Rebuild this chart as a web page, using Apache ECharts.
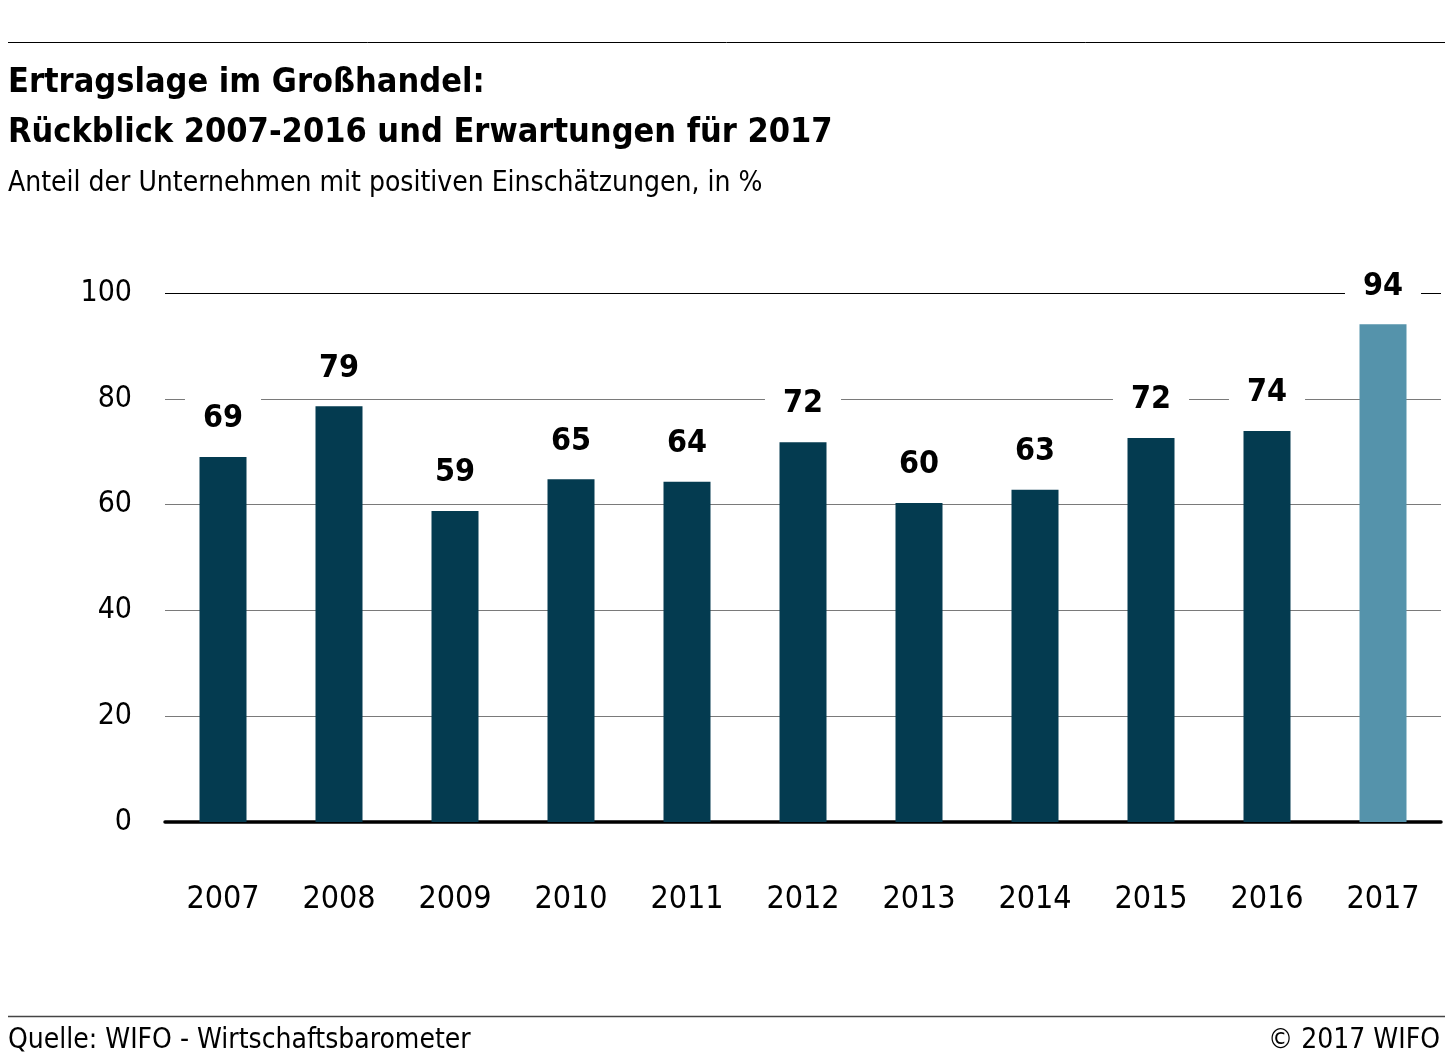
<!DOCTYPE html>
<html>
<head>
<meta charset="utf-8">
<script src="https://cdn.jsdelivr.net/npm/echarts@6/dist/echarts.min.js"></script>
<style>
  html, body { margin: 0; padding: 0; background: #fff; }
  #main { width: 1447px; height: 1063px; }
</style>
</head>
<body>
<div id="main"></div>
<script type="text/javascript">
// Daten
var years = ['2007', '2008', '2009', '2010', '2011', '2012', '2013', '2014', '2015', '2016', '2017'];
var values = [69.0, 78.6, 58.8, 64.8, 64.3, 71.8, 60.3, 62.8, 72.6, 73.9, 94.1];
var labels = [69, 79, 59, 65, 64, 72, 60, 63, 72, 74, 94];
var yTicks = [0, 20, 40, 60, 80, 100];

var dark = '#043b50';
var light = '#5593ab';
var font = '"Liberation Sans Narrow", "DejaVu Sans Condensed", "Noto Sans", sans-serif';

var chart = echarts.init(document.getElementById('main'));

var barData = values.map(function (v, i) {
    return {
        value: v,
        itemStyle: { color: i === values.length - 1 ? light : dark }
    };
});

var option = {
    backgroundColor: '#fff',
    animation: false,
    title: [
        {
            text: 'Ertragslage im Großhandel:\nRückblick 2007-2016 und Erwartungen für 2017',
            left: 3, top: 53,
            textStyle: { fontFamily: font, fontWeight: 'bold', fontSize: 34, lineHeight: 50, color: '#000' }
        },
        {
            text: 'Anteil der Unternehmen mit positiven Einschätzungen, in %',
            left: 3, top: 165,
            textStyle: { fontFamily: font, fontWeight: 'normal', fontSize: 28, color: '#000' }
        },
        {
            text: 'Quelle: WIFO - Wirtschaftsbarometer',
            left: 3, top: 1022,
            textStyle: { fontFamily: font, fontWeight: 'normal', fontSize: 28, color: '#000' }
        },
        {
            text: '© 2017 WIFO',
            right: 2, top: 1022,
            textStyle: { fontFamily: font, fontWeight: 'normal', fontSize: 28, color: '#000' }
        }
    ],
    graphic: [
        { type: 'line', shape: { x1: 8, y1: 42.5, x2: 1445, y2: 42.5 }, style: { stroke: '#000', lineWidth: 1 } },
        { type: 'line', shape: { x1: 8, y1: 1016.5, x2: 1445, y2: 1016.5 }, style: { stroke: '#444', lineWidth: 1.5 } }
    ],
    grid: { left: 165, right: 6, top: 293, bottom: 1063 - 822 },
    xAxis: {
        type: 'category',
        data: years,
        axisLine: { lineStyle: { color: '#000', width: 3.5 } },
        axisTick: { show: false },
        axisLabel: { fontFamily: font, fontSize: 32, color: '#000', margin: 62 }
    },
    yAxis: {
        type: 'value',
        min: 0, max: 100, interval: 20,
        axisLine: { show: false },
        axisTick: { show: false },
        axisLabel: {
            fontFamily: font, fontSize: 30, color: '#000', margin: 33,
            formatter: function (v) { return yTicks.indexOf(v) >= 0 ? String(v) : ''; }
        },
        splitLine: { lineStyle: { color: ['#7a7a7a', '#7a7a7a', '#7a7a7a', '#7a7a7a', '#7a7a7a', '#000'], width: 1.2 } }
    },
    series: [{
        type: 'bar',
        data: barData,
        barWidth: 47,
        label: {
            show: true,
            position: 'top',
            distance: 20,
            fontFamily: font,
            fontWeight: 'bold',
            fontSize: 32,
            color: '#000',
            backgroundColor: '#fff',
            padding: [4, 18, 2, 18],
            formatter: function (p) { return String(labels[p.dataIndex]); }
        }
    }]
};

chart.setOption(option);
</script>
</body>
</html>
